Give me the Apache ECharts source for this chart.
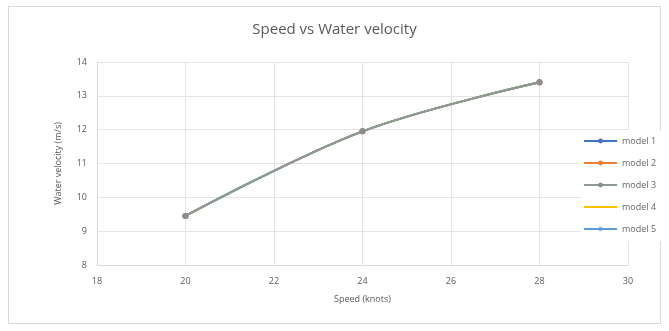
<!DOCTYPE html>
<html>
<head>
<meta charset="utf-8">
<script src="https://cdn.jsdelivr.net/npm/echarts@6/dist/echarts.min.js"></script>
<style>
html,body{margin:0;padding:0;background:#fff;}
#wrap{position:absolute;left:8px;top:6px;width:653px;height:318px;border:1px solid #d9d9d9;box-sizing:border-box;}
#chart{position:absolute;left:0;top:0;width:669px;height:331px;}
</style>
</head>
<body>
<div id="wrap"></div>
<div id="chart"></div>
<script>
const seriesNames = ['model 1', 'model 2', 'model 3', 'model 4', 'model 5'];
const seriesColors = ['#4472C4', '#ED7D31', '#A5A5A5', '#FFC000', '#5B9BD5'];
const speeds = [20, 24, 28];
const model1 = [9.45, 11.95, 13.4];
const model2 = [9.45, 11.95, 13.4];
const model3 = [9.45, 11.95, 13.4];
const model4 = [9.45, 11.95, 13.4];
const model5 = [9.45, 11.95, 13.4];
const allValues = [model1, model2, model3, model4, model5];
const symbols = ['circle', 'circle', 'circle', 'none', 'circle'];

const chart = echarts.init(document.getElementById('chart'));
const font = 'Open Sans, Liberation Sans, sans-serif';
const series = seriesNames.map((name, i) => ({
  name: name,
  type: 'line',
  smooth: 0.35,
  data: speeds.map((s, j) => [s, allValues[i][j]]),
  symbol: symbols[i],
  symbolSize: i === 4 ? 3 : 6,
  z: i === 2 ? 10 : 2 + i,
  lineStyle: { color: i === 2 ? '#8c9a92' : seriesColors[i], width: 2 },
  itemStyle: { color: i === 2 ? '#8a8f8c' : seriesColors[i] }
}));
chart.setOption({
  animation: false,
  title: {
    text: 'Speed vs Water velocity',
    left: 'center',
    top: 17,
    textStyle: { fontFamily: font, fontSize: 15, fontWeight: 'normal', color: '#595959' }
  },
  legend: {
    orient: 'vertical',
    left: 581,
    top: 130,
    padding: [5, 8, 6, 2],
    backgroundColor: '#ffffff',
    itemGap: 10,
    itemWidth: 33,
    itemHeight: 6,
    textStyle: { fontFamily: font, fontSize: 9, color: '#666666', lineHeight: 12 },
    data: seriesNames.map((n, i) => symbols[i] === 'none'
      ? { name: n, itemStyle: { opacity: 0 } }
      : (i === 4 ? { name: n, itemStyle: { opacity: 0.6 } } : { name: n }))
  },
  grid: { left: 97, right: 41, top: 62, bottom: 66 },
  xAxis: {
    type: 'value',
    min: 18, max: 30, interval: 2,
    name: 'Speed (knots)',
    nameLocation: 'middle',
    nameGap: 30,
    nameTextStyle: { fontFamily: font, fontSize: 9, color: '#595959' },
    axisLine: { lineStyle: { color: '#d9d9d9' } },
    axisTick: { show: false },
    axisLabel: { fontFamily: font, fontSize: 9, color: '#595959', margin: 12 },
    splitLine: { lineStyle: { color: '#e4e4e4' } }
  },
  yAxis: {
    type: 'value',
    min: 8, max: 14, interval: 1,
    name: 'Water velocity (m/s)',
    nameLocation: 'middle',
    nameGap: 34,
    nameTextStyle: { fontFamily: font, fontSize: 9, color: '#595959' },
    axisLine: { show: true, lineStyle: { color: '#d9d9d9' } },
    axisTick: { show: false },
    axisLabel: { fontFamily: font, fontSize: 9, color: '#595959', margin: 10 },
    splitLine: { lineStyle: { color: '#e4e4e4' } }
  },
  series: series
});
</script>
</body>
</html>
